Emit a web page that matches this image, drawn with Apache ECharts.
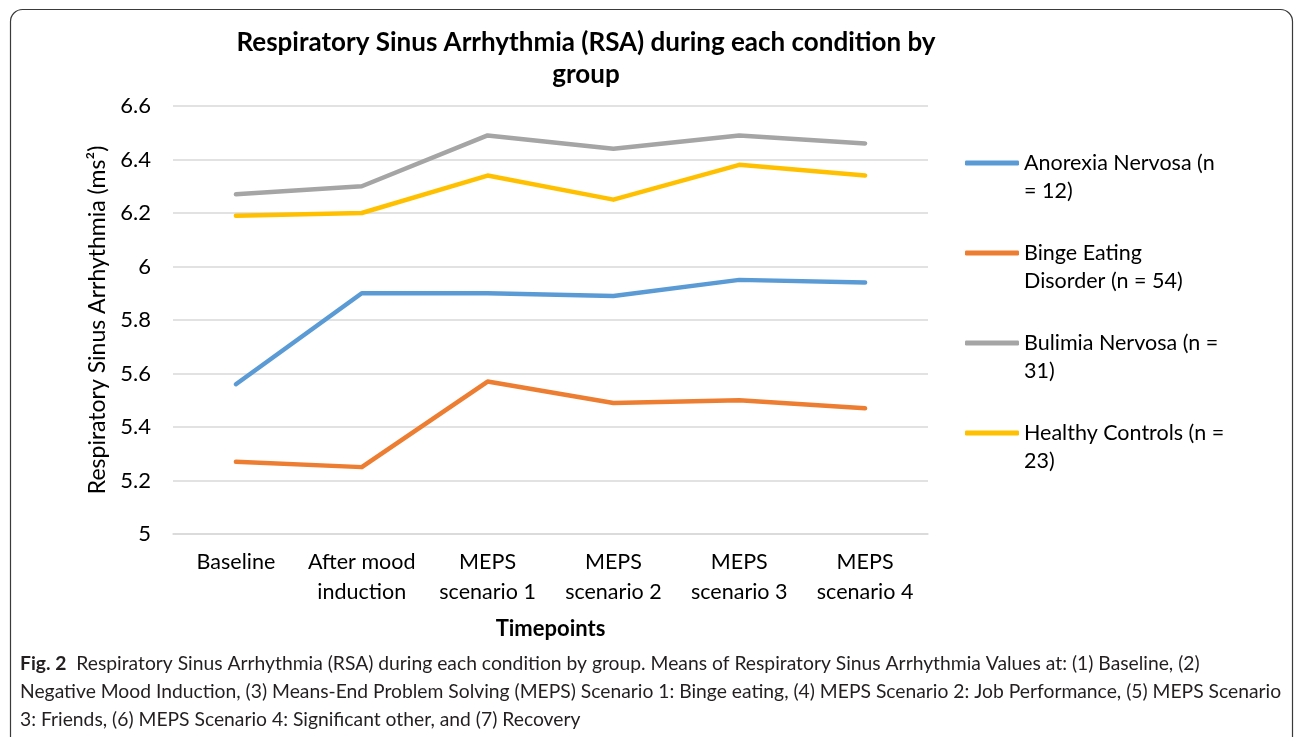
<!DOCTYPE html>
<html>
<head>
<meta charset="utf-8">
<script src="https://cdn.jsdelivr.net/npm/echarts@6/dist/echarts.min.js"></script>
<style>
html,body{margin:0;padding:0;background:#fff;}
#c{width:1295px;height:737px;}
</style>
</head>
<body>
<div id="c"></div>
<script>
const categories = ['Baseline', 'After mood\ninduction', 'MEPS\nscenario 1', 'MEPS\nscenario 2', 'MEPS\nscenario 3', 'MEPS\nscenario 4'];
const seriesNames = ['Anorexia Nervosa (n = 12)', 'Binge Eating Disorder (n = 54)', 'Bulimia Nervosa (n = 31)', 'Healthy Controls (n = 23)'];
const legendLabels = ['Anorexia Nervosa (n\n= 12)', 'Binge Eating\nDisorder (n = 54)', 'Bulimia Nervosa (n =\n31)', 'Healthy Controls (n =\n23)'];
const anorexia = [5.56, 5.90, 5.90, 5.89, 5.95, 5.94];
const binge = [5.27, 5.25, 5.57, 5.49, 5.50, 5.47];
const bulimia = [6.27, 6.30, 6.49, 6.44, 6.49, 6.46];
const healthy = [6.19, 6.20, 6.34, 6.25, 6.38, 6.34];
const yTicks = { min: 5, max: 6.6, interval: 0.2 };
const colors = ['#5B9BD5', '#ED7D31', '#A5A5A5', '#FFC000'];

const chartFont = 'Lato';
const capFont = 'Lato';
const values = [anorexia, binge, bulimia, healthy];

const chart = echarts.init(document.getElementById('c'), null, { renderer: 'canvas' });
chart.setOption({
  animation: false,
  color: colors,
  title: {
    text: 'Respiratory Sinus Arrhythmia (RSA) during each condition by\ngroup',
    left: 581, top: 22, textAlign: 'center',
    textStyle: { fontFamily: chartFont, fontWeight: 'bold', fontSize: 26, color: '#000', lineHeight: 32 }
  },
  grid: { left: 173, right: 367, top: 106, bottom: 203, containLabel: false },
  legend: {
    orient: 'vertical', left: 960, top: 116, itemGap: 6, padding: 5,
    itemWidth: 54, itemHeight: 5,
    icon: 'roundRect',
    data: seriesNames,
    formatter: (name) => '\n' + legendLabels[seriesNames.indexOf(name)],
    textStyle: { fontFamily: chartFont, fontSize: 21.5, color: '#000', lineHeight: 28 }
  },
  xAxis: {
    type: 'category', data: categories, boundaryGap: true,
    axisLine: { show: true, lineStyle: { color: '#D9D9D9', width: 1.5 } },
    axisTick: { show: false },
    axisLabel: { fontFamily: chartFont, fontSize: 21.5, color: '#000', lineHeight: 30, margin: 13, interval: 0 },
    name: 'Timepoints', nameLocation: 'middle', nameGap: 84,
    nameTextStyle: { fontFamily: chartFont, fontWeight: 'bold', fontSize: 22, color: '#000' }
  },
  yAxis: {
    type: 'value', min: yTicks.min, max: yTicks.max, interval: yTicks.interval,
    axisLine: { show: false }, axisTick: { show: false },
    splitLine: { lineStyle: { color: '#D9D9D9', width: 1.5 } },
    axisLabel: { fontFamily: chartFont, fontSize: 22, color: '#000', margin: 22,
      formatter: (v) => String(Math.round(v * 10) / 10) },
    name: 'Respiratory Sinus Arrhythmia (ms²)', nameLocation: 'middle', nameGap: 58,
    nameTextStyle: { fontFamily: chartFont, fontSize: 23, color: '#000' }
  },
  series: seriesNames.map((n, i) => ({
    name: n, type: 'line', data: values[i], showSymbol: false, symbol: 'none',
    lineStyle: { width: 4.5, color: colors[i], cap: 'round', join: 'round' }
  })),
  graphic: [
    { type: 'rect', shape: { x: 10.5, y: 9.5, width: 1282, height: 760, r: 12 },
      style: { fill: 'none', stroke: '#3a3a3a', lineWidth: 1.2 }, silent: true, z: 100 },
    { type: 'text', left: 20, top: 649.5,
      style: {
        text: '{b|Fig. 2}  Respiratory Sinus Arrhythmia (RSA) during each condition by group. Means of Respiratory Sinus Arrhythmia Values at: (1) Baseline, (2)\nNegative Mood Induction, (3) Means-End Problem Solving (MEPS) Scenario 1: Binge eating, (4) MEPS Scenario 2: Job Performance, (5) MEPS Scenario\n3: Friends, (6) MEPS Scenario 4: Significant other, and (7) Recovery',
        font: '19.3px ' + capFont, fill: '#231f20', lineHeight: 28,
        rich: { b: { fontFamily: capFont, fontWeight: 'bold', fontSize: 19.3, fill: '#231f20', lineHeight: 28 } }
      }
    }
  ]
});
</script>
</body>
</html>
